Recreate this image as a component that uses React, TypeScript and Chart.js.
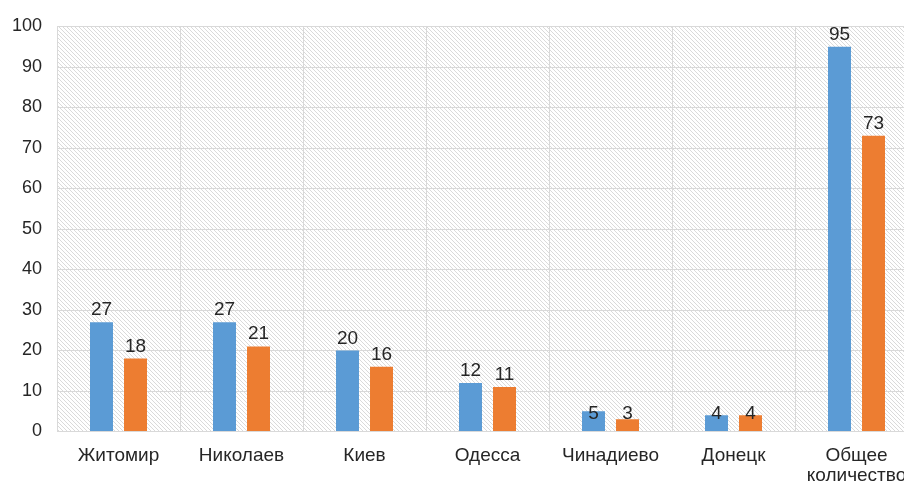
import React, { useEffect, useRef } from "react";
import { Chart, registerables } from "chart.js";

Chart.register(...registerables);

const categories: (string | string[])[] = [
  "Житомир",
  "Николаев",
  "Киев",
  "Одесса",
  "Чинадиево",
  "Донецк",
  ["Общее", "количество"],
];
const seriesBlue = [27, 27, 20, 12, 5, 4, 95];
const seriesOrange = [18, 21, 16, 11, 3, 4, 73];
const yTicks = [0, 10, 20, 30, 40, 50, 60, 70, 80, 90, 100];

const FONT = "'Liberation Sans', Arial, sans-serif";
const TEXT = "#262626";
const GRID = "#d9d9d9";

function makeHatch(ctx: CanvasRenderingContext2D): CanvasPattern | string {
  const c = document.createElement("canvas");
  const s = 4;
  c.width = s;
  c.height = s;
  const g = c.getContext("2d");
  if (!g) return "#f0f0f0";
  g.fillStyle = "#ffffff";
  g.fillRect(0, 0, s, s);
  g.fillStyle = "#dadada";
  for (let i = 0; i < s; i++) g.fillRect(i, i, 1, 1);
  const p = ctx.createPattern(c, "repeat");
  return p || "#f0f0f0";
}

const hatchPlugin = {
  id: "hatchBg",
  beforeDraw(chart: any) {
    const { ctx, chartArea } = chart;
    if (!chartArea) return;
    ctx.save();
    ctx.fillStyle = makeHatch(ctx);
    ctx.fillRect(
      chartArea.left,
      chartArea.top,
      chartArea.right - chartArea.left,
      chartArea.bottom - chartArea.top
    );
    ctx.restore();
  },
};

const labelPlugin = {
  id: "barLabels",
  afterDatasetsDraw(chart: any) {
    const { ctx, chartArea } = chart;
    ctx.save();
    ctx.font = `19px ${FONT}`;
    ctx.fillStyle = TEXT;
    ctx.textAlign = "center";
    ctx.textBaseline = "alphabetic";
    chart.data.datasets.forEach((ds: any, di: number) => {
      const meta = chart.getDatasetMeta(di);
      meta.data.forEach((bar: any, i: number) => {
        const h = chartArea.bottom - bar.y;
        const y = h < 30 ? chartArea.bottom - 12.5 : bar.y - 7;
        ctx.fillText(String(ds.data[i]), bar.x, y);
      });
    });
    ctx.restore();
  },
};

export default function App() {
  const ref = useRef<HTMLCanvasElement | null>(null);

  useEffect(() => {
    const prevOverflow = document.body.style.overflow;
    const prevMargin = document.body.style.margin;
    document.body.style.overflow = "hidden";
    document.body.style.margin = "0";
    const canvas = ref.current;
    if (!canvas) return;
    const chart = new Chart(canvas, {
      type: "bar",
      data: {
        labels: categories,
        datasets: [
          {
            label: "A",
            data: seriesBlue,
            backgroundColor: "#5B9BD5",
            categoryPercentage: 0.553,
            barPercentage: 0.676,
          },
          {
            label: "B",
            data: seriesOrange,
            backgroundColor: "#ED7D31",
            categoryPercentage: 0.553,
            barPercentage: 0.676,
          },
        ],
      },
      options: {
        responsive: false,
        animation: false,
        devicePixelRatio: 1,
        layout: { padding: { top: 26.5, right: 20, left: 0, bottom: 0 } },
        plugins: {
          legend: { display: false },
          tooltip: { enabled: false },
        },
        scales: {
          x: {
            offset: true,
            grid: { color: GRID, drawTicks: false, offset: true },
            border: { color: GRID },
            ticks: {
              color: TEXT,
              font: { family: FONT, size: 19, lineHeight: 1.07 },
              padding: 14,
              maxRotation: 0,
              autoSkip: false,
            },
            afterFit(scale: any) {
              scale.height = 54.5;
            },
          },
          y: {
            min: 0,
            max: 100,
            afterBuildTicks(scale: any) {
              scale.ticks = yTicks.map((v) => ({ value: v }));
            },
            grid: { color: GRID, drawTicks: false },
            border: { color: GRID },
            ticks: {
              color: TEXT,
              font: { family: FONT, size: 18 },
              padding: 15,
            },
            afterFit(scale: any) {
              scale.width = 57;
            },
          },
        },
      },
      plugins: [hatchPlugin, labelPlugin],
    });
    return () => {
      chart.destroy();
      document.body.style.overflow = prevOverflow;
      document.body.style.margin = prevMargin;
    };
  }, []);

  return (
    <div style={{ width: 904, height: 486, overflow: "hidden", position: "relative" }}>
      <canvas ref={ref} width={938} height={486} style={{ display: "block", width: 938, height: 486 }} />
    </div>
  );
}
